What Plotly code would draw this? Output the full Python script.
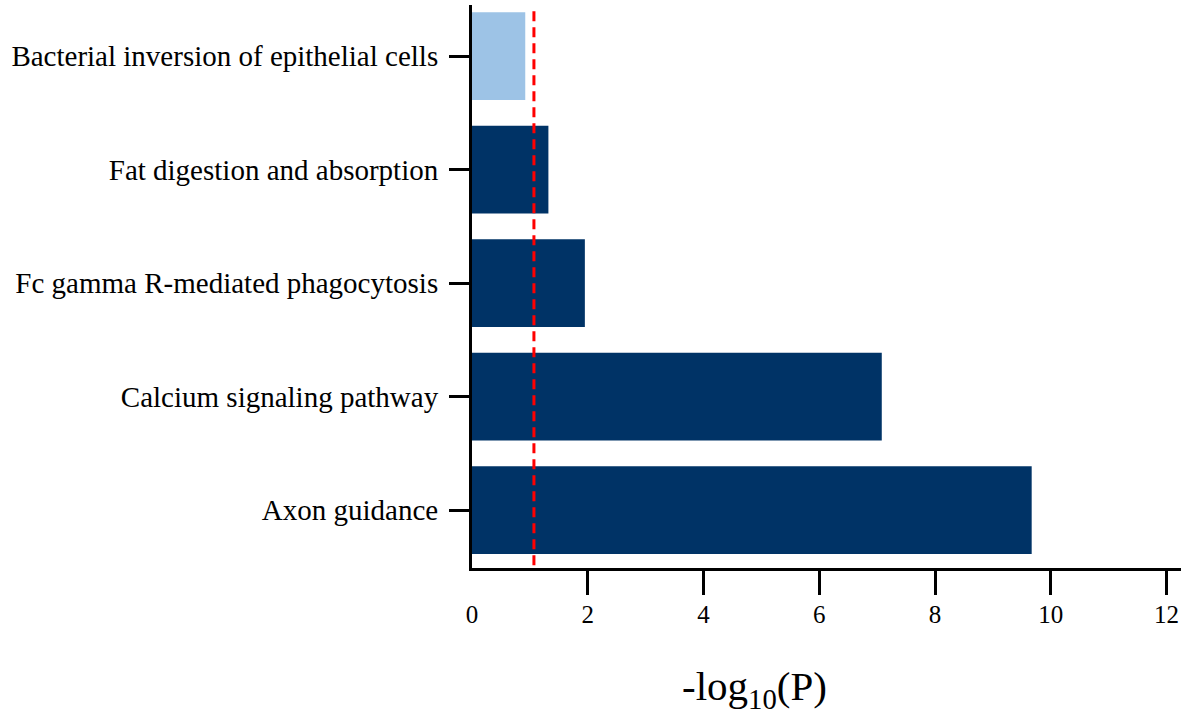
import plotly.graph_objects as go

# Data (bottom to top)
pathways = [
    "Axon guidance",
    "Calcium signaling pathway",
    "Fc gamma R-mediated phagocytosis",
    "Fat digestion and absorption",
    "Bacterial inversion of epithelial cells",
]
neg_log10_p = [9.67, 7.08, 1.95, 1.32, 0.92]
bar_colors = ["#003366", "#003366", "#003366", "#003366", "#9DC3E6"]
threshold = 1.07
x_ticks = [0, 2, 4, 6, 8, 10, 12]
x_title = "-log<sub>10</sub>(P)"

FONT = "Liberation Serif"

fig = go.Figure()
fig.add_trace(go.Bar(
    y=pathways,
    x=neg_log10_p,
    orientation="h",
    marker=dict(color=bar_colors, line=dict(width=0)),
    width=0.774,
    showlegend=False,
    hoverinfo="x+y",
))
# invisible trace to activate the tick-only overlay axis
fig.add_trace(go.Scatter(x=[None], y=[None], xaxis="x2", yaxis="y",
                         showlegend=False, hoverinfo="skip"))

fig.add_vline(x=threshold, line=dict(color="#FF0000", width=3, dash="10px,6px"),
              y0=0.005, y1=0.995)

fig.add_annotation(text=x_title, xref="paper", yref="paper", x=0.398, y=-0.215,
                   showarrow=False, font=dict(family=FONT, size=41, color="black"),
                   xanchor="center", yanchor="middle")

fig.update_layout(
    width=1181, height=719,
    margin=dict(l=472, r=0, t=5, b=151),
    paper_bgcolor="white", plot_bgcolor="white",
    font=dict(family=FONT, color="black"),
    xaxis=dict(
        range=[0, 12.25], tickvals=x_ticks, ticktext=[str(v) for v in x_ticks],
        ticks="", showgrid=False, zeroline=False, automargin=False,
        showline=True, linecolor="black", linewidth=3,
        tickfont=dict(family=FONT, size=25),
        ticklabelstandoff=22,
    ),
    xaxis2=dict(
        overlaying="x", matches="x", side="bottom", range=[0, 12.25],
        tickvals=x_ticks[1:], showticklabels=False, automargin=False,
        ticks="outside", ticklen=26, tickwidth=3, tickcolor="black",
        showgrid=False, zeroline=False, showline=False,
    ),
    yaxis=dict(
        range=[-0.51, 4.45], automargin=False,
        showgrid=False, zeroline=False,
        showline=True, linecolor="black", linewidth=3,
        ticks="outside", ticklen=20, tickwidth=3, tickcolor="black",
        tickfont=dict(family=FONT, size=29),
        ticklabelstandoff=5,
    ),
    bargap=0.226,
)

fig.write_html("out.html", config={"displayModeBar": False},
               post_script="document.body.style.margin='0';")
